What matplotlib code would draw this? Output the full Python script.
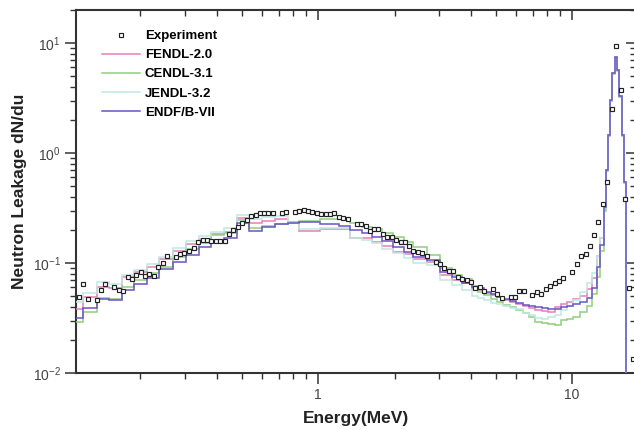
import matplotlib
matplotlib.use("Agg")
import matplotlib.pyplot as plt

plt.rcParams["font.family"] = ["Liberation Sans", "DejaVu Sans"]
plt.rcParams["mathtext.fontset"] = "custom"
plt.rcParams["mathtext.rm"] = "Liberation Sans"

# ---------------------------------------------------------------------------
# Data
# ---------------------------------------------------------------------------
edges = [0.10, 0.119, 0.1345, 0.151, 0.169, 0.189, 0.212, 0.237, 0.268, 0.302,
         0.339, 0.379, 0.425, 0.479, 0.535, 0.602, 0.677, 0.762, 0.844, 1.02,
         1.21, 1.34, 1.49, 1.63, 1.78, 1.98, 2.17, 2.37, 2.68, 3.02, 3.36, 3.68,
         4.03, 4.27, 4.52, 4.79, 5.07, 5.37, 5.69, 6.03, 6.39, 6.77, 7.17, 7.6,
         8.05, 8.53, 9.03, 9.57, 10.1, 10.7, 11.4, 12.0, 12.5, 12.9,
         13.3, 13.58, 13.8, 14.1, 14.37, 14.77, 15.08, 15.35, 15.7, 16.0, 16.3, 17.5]

fendl = [0.0379, 0.0488, 0.0609, 0.0589, 0.0741, 0.0823, 0.0926, 0.1087, 0.1285, 0.1489,
         0.1653, 0.1835, 0.1926, 0.2549, 0.2325, 0.2424, 0.2527, 0.2296, 0.1954, 0.2025,
         0.2059, 0.1698, 0.1677, 0.1562, 0.1427, 0.1267, 0.1207, 0.1080, 0.1027, 0.0778,
         0.0701, 0.0662,
         0.0580, 0.0569, 0.0537, 0.0512, 0.0488, 0.0461, 0.0445, 0.0424, 0.0409, 0.0388,
         0.0374, 0.0368, 0.0361, 0.0396, 0.0424, 0.0442, 0.0471, 0.0501, 0.0580, 0.0731,
         0.1158,
         0.17, 0.33, 0.70, 1.46, 3.05, 5.3, 7.4, 5.7, 3.3, 1.46, 0.55, 0.005]

cendl = [0.0289, 0.0356, 0.0478, 0.0471, 0.0601, 0.0696, 0.0806, 0.0926, 0.1127, 0.1332,
         0.1529, 0.1797, 0.1874, 0.2460, 0.2068, 0.2183, 0.2262, 0.2374, 0.2424, 0.2496,
         0.2490, 0.2296, 0.2138, 0.2025, 0.1862, 0.1713, 0.1542, 0.1406, 0.1182, 0.0895,
         0.0778, 0.0715,
         0.0618, 0.0548, 0.0512, 0.0468, 0.0445, 0.0415, 0.0396, 0.0374, 0.0349, 0.0325,
         0.0293, 0.0283, 0.0279, 0.0273, 0.0303, 0.0313, 0.0325, 0.0359, 0.0407, 0.0523,
         0.0745,
         0.13, 0.30, 0.68, 1.42, 3.0, 5.2, 7.3, 5.6, 3.25, 1.42, 0.53, 0.005]

jendl = [0.0439, 0.0537, 0.0672, 0.0640, 0.0773, 0.0864, 0.0973, 0.1141, 0.1377, 0.1595,
         0.1771, 0.1926, 0.2068, 0.2730, 0.2496, 0.2636, 0.2692, 0.2325, 0.2025, 0.2094,
         0.2080, 0.1677, 0.1620, 0.1510, 0.1332, 0.1225, 0.1104, 0.1006, 0.0959, 0.0701,
         0.0631, 0.0569,
         0.0501, 0.0479, 0.0461, 0.0436, 0.0424, 0.0407, 0.0392, 0.0379, 0.0349, 0.0337,
         0.0314, 0.0308, 0.0321, 0.0337, 0.0374, 0.0407, 0.0461, 0.0545, 0.0661, 0.0812,
         0.1158,
         0.17, 0.32, 0.70, 1.46, 3.05, 5.3, 7.4, 5.7, 3.3, 1.46, 0.55, 0.005]

endf = [0.0318, 0.0388, 0.0471, 0.0461, 0.0569, 0.0640, 0.0726, 0.0876, 0.1021, 0.1182,
        0.1398, 0.1562, 0.1677, 0.2296, 0.1966, 0.2111, 0.2262, 0.2296, 0.2344, 0.2262,
        0.2170, 0.1995, 0.1862, 0.1713, 0.1575, 0.1406, 0.1267, 0.1141, 0.1065, 0.0833,
        0.0751, 0.0654,
        0.0606, 0.0589, 0.0548, 0.0523, 0.0494, 0.0468, 0.0451, 0.0430, 0.0415, 0.0407,
        0.0396, 0.0388, 0.0379, 0.0384, 0.0396, 0.0407, 0.0421, 0.0442, 0.0481, 0.0593,
        0.0917,
        0.146, 0.32, 0.70, 1.46, 3.05, 5.3, 7.4, 5.7, 3.3, 1.46, 0.55, 0.005]

exp_e = [0.1143, 0.1191, 0.1240, 0.1345, 0.1398, 0.1454, 0.1578, 0.1642, 0.1708, 0.1781,
         0.1847, 0.1926, 0.2004, 0.2084, 0.2167, 0.2254, 0.2345, 0.2446, 0.2543, 0.2760,
         0.2870, 0.2977, 0.3114, 0.3241, 0.3370, 0.3516, 0.3656, 0.3791, 0.3967, 0.4125,
         0.4304, 0.4462, 0.4640, 0.4830, 0.5006, 0.5240, 0.5447, 0.5684, 0.5909, 0.6127,
         0.6370, 0.6631, 0.7195, 0.7482, 0.8141, 0.8441, 0.8785, 0.9134, 0.9496, 0.9883,
         1.0276, 1.0723, 1.1149, 1.1592, 1.2097, 1.2578, 1.3091, 1.4204, 1.4730, 1.5410,
         1.6025, 1.6656, 1.7273, 1.7975, 1.8740, 1.9506, 2.0280, 2.1163, 2.2004, 2.2878,
         2.3725, 2.4690, 2.5670, 2.6790, 2.9066, 3.0216, 3.1418, 3.2801, 3.4090, 3.5481,
         3.7000, 3.8503, 4.0040, 4.1516, 4.3239, 4.5163, 4.8729, 5.0801, 5.2865, 5.7378,
         5.9650, 6.2021, 6.4540, 6.9775, 7.2611, 7.5509, 7.9002, 8.1929, 8.5500, 8.8890,
         9.2420, 9.9730, 10.42, 10.85, 11.30, 11.78, 12.21, 12.69, 13.21, 13.77,
         14.37, 14.90, 15.56, 16.17, 16.81, 17.43]
exp_v = [0.0494, 0.0640, 0.0471, 0.0461, 0.0568, 0.0640, 0.0605, 0.0565, 0.0556, 0.0746,
         0.0711, 0.0773, 0.0823, 0.0757, 0.0789, 0.0766, 0.0914, 0.1006, 0.1158, 0.1141,
         0.1200, 0.1225, 0.1285, 0.1360, 0.1562, 0.1619, 0.1619, 0.1595, 0.1585, 0.1595,
         0.1585, 0.1835, 0.1995, 0.2138, 0.2325, 0.2460, 0.2675, 0.2749, 0.2831, 0.2867,
         0.2831, 0.2831, 0.2867, 0.2909, 0.2890, 0.2951, 0.3032, 0.2988, 0.2890, 0.2831,
         0.2790, 0.2772, 0.2772, 0.2867, 0.2636, 0.2549, 0.2496, 0.2262, 0.2248, 0.2170,
         0.1954, 0.2025, 0.2025, 0.1823, 0.1713, 0.1713, 0.1608, 0.1542, 0.1552, 0.1418,
         0.1294, 0.1267, 0.1225, 0.1165, 0.1027, 0.0979, 0.0895, 0.0846, 0.0846, 0.0751,
         0.0711, 0.0700, 0.0668, 0.0593, 0.0605, 0.0560, 0.0577, 0.0528, 0.0478, 0.0486,
         0.0496, 0.0551, 0.0551, 0.0517, 0.0545, 0.0528, 0.0580, 0.0618, 0.0654, 0.0686,
         0.0734, 0.0833, 0.0973, 0.1163, 0.1220, 0.1442, 0.1797, 0.2374, 0.3459, 0.5483,
         2.538, 9.49, 3.715, 0.3818, 0.0593, 0.0133]

series = [("FENDL-2.0", fendl, "#e57fb8"),
          ("CENDL-3.1", cendl, "#8fd07e"),
          ("JENDL-3.2", jendl, "#bfe9df"),
          ("ENDF/B-VII", endf, "#6a55c4")]

# ---------------------------------------------------------------------------
# Figure
# ---------------------------------------------------------------------------
W, H = 634, 430
fig = plt.figure(figsize=(W / 100, H / 100), dpi=100)
x0, x1, y0, y1 = 76, 636, 10, 373
ax = fig.add_axes([x0 / W, 1 - y1 / H, (x1 - x0) / W, (y1 - y0) / H])

ax.set_xscale("log")
ax.set_yscale("log")

h_exp, = ax.plot(exp_e, exp_v, ls="none", marker="s", ms=2.8, mfc="white",
                 mec="#222222", mew=0.85, zorder=5)
handles = [h_exp]
for name, vals, col in series:
    ax.stairs(vals, edges, baseline=None, color=col, lw=1.1, zorder=3)
    handles.append(plt.Line2D([], [], color=col, lw=1.1))

ax.set_xlim(0.1115, 17.85)
ax.set_ylim(0.01, 20)

spine_col = "#333333"
for s in ax.spines.values():
    s.set_linewidth(1.5)
    s.set_color(spine_col)

ax.tick_params(which="major", direction="out", length=8, width=1.1,
               color=spine_col, labelsize=10, labelcolor="#444444", pad=3)
ax.tick_params(which="minor", direction="out", length=4, width=1.0,
               color=spine_col)
ax.set_xticks([1, 10])
ax.set_xticklabels(["1", "10"])

# mirrored inward ticks on top and right
sec_x = ax.secondary_xaxis("top")
sec_x.tick_params(which="major", direction="in", length=7, width=1.1,
                  color=spine_col, labeltop=False)
sec_x.tick_params(which="minor", direction="in", length=4, width=1.0,
                  color=spine_col)
sec_x.set_xticks([1, 10])
sec_x.spines["top"].set_visible(False)

sec_y = ax.secondary_yaxis("right")
sec_y.tick_params(which="major", direction="in", length=7, width=1.1,
                  color=spine_col, labelright=False)
sec_y.tick_params(which="minor", direction="in", length=4, width=1.0,
                  color=spine_col)
sec_y.spines["right"].set_visible(False)

ax.set_xlabel("Energy(MeV)", fontsize=12.5, fontweight="bold", color="#222222",
              labelpad=6)
ax.set_ylabel("Neutron Leakage dN/du", fontsize=12.5, fontweight="bold",
              color="#222222", labelpad=4)

leg = ax.legend(handles, ["Experiment", "FENDL-2.0", "CENDL-3.1", "JENDL-3.2",
                          "ENDF/B-VII"],
                loc="upper left", bbox_to_anchor=(102 / W, 1 - 30 / H),
                bbox_transform=fig.transFigure, frameon=False,
                prop={"weight": "bold", "size": 9.5}, handlelength=2.9,
                handletextpad=0.35, labelspacing=0.52, borderpad=0,
                borderaxespad=0)

fig.savefig("out.png", dpi=100)
